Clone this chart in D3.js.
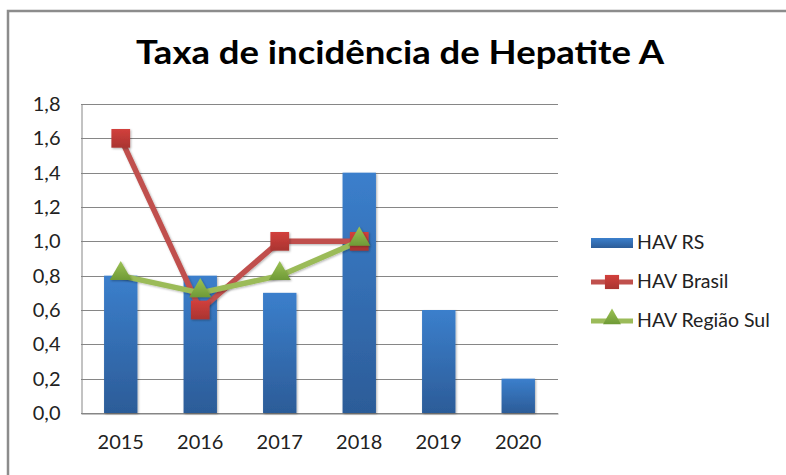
<!DOCTYPE html>
<html>
<head>
<meta charset="utf-8">
<script src="https://cdn.jsdelivr.net/npm/d3@7"></script>
<style>
  body { margin: 0; background: #fff; }
  svg { display: block; font-family: Lato, "Open Sans", sans-serif; }
  .grid line { stroke: #868686; stroke-width: 1; }
  .tick text { fill: #222; }
</style>
</head>
<body>
<svg id="chart" width="786" height="475"></svg>
<script>
var years = ['2015', '2016', '2017', '2018', '2019', '2020'];
var havRS = [0.8, 0.8, 0.7, 1.4, 0.6, 0.2];
var havBrasil = [1.6, 0.6, 1.0, 1.0];
var havSul = [0.8, 0.7, 0.8, 1.0];
var yTicks = [0, 0.2, 0.4, 0.6, 0.8, 1.0, 1.2, 1.4, 1.6, 1.8];

var svg = d3.select('#chart');
var plot = {left: 81, right: 558, top: 104, bottom: 413};

var defs = svg.append('defs');
var barGrad = defs.append('linearGradient')
  .attr('id', 'barGrad')
  .attr('x1', 0).attr('y1', 0).attr('x2', 0).attr('y2', 1);
barGrad.append('stop').attr('offset', '0%').attr('stop-color', '#3b7fcc');
barGrad.append('stop').attr('offset', '100%').attr('stop-color', '#2c5c98');
var redGrad = defs.append('linearGradient')
  .attr('id', 'redGrad')
  .attr('x1', 0).attr('y1', 0).attr('x2', 0).attr('y2', 1);
redGrad.append('stop').attr('offset', '0%').attr('stop-color', '#d2403c');
redGrad.append('stop').attr('offset', '100%').attr('stop-color', '#a93431');
var greenGrad = defs.append('linearGradient')
  .attr('id', 'greenGrad')
  .attr('x1', 0).attr('y1', 0).attr('x2', 0).attr('y2', 1);
greenGrad.append('stop').attr('offset', '0%').attr('stop-color', '#9cc255');
greenGrad.append('stop').attr('offset', '100%').attr('stop-color', '#6f9a36');
var shadow = defs.append('filter').attr('id', 'shadow')
  .attr('x', '-30%').attr('y', '-30%').attr('width', '160%').attr('height', '160%');
shadow.append('feDropShadow')
  .attr('dx', 1).attr('dy', 1).attr('stdDeviation', 1.2)
  .attr('flood-color', '#000').attr('flood-opacity', 0.3);

// outer frame
svg.append('rect')
  .attr('x', 8).attr('y', 11)
  .attr('width', 790).attr('height', 480)
  .attr('fill', 'none')
  .attr('stroke', '#8c8c8c')
  .attr('stroke-width', 2.5);

// title
svg.append('text')
  .attr('x', 400)
  .attr('y', 64)
  .attr('text-anchor', 'middle')
  .attr('font-size', 32)
  .attr('font-weight', 'bold')
  .attr('fill', '#000')
  .attr('textLength', 528)
  .attr('lengthAdjust', 'spacingAndGlyphs')
  .text('Taxa de incidência de Hepatite A');

var x = d3.scaleBand()
  .domain(years)
  .range([plot.left, plot.right])
  .paddingInner(0.58)
  .paddingOuter(0.29);
var y = d3.scaleLinear()
  .domain([0, 1.8])
  .range([plot.bottom, plot.top]);
var cx = function(i) { return x(years[i]) + x.bandwidth() / 2; };
var fmt = function(d) { return d3.format('.1f')(d).replace('.', ','); };

// gridlines
svg.append('g')
  .attr('class', 'grid')
  .selectAll('line')
  .data(yTicks)
  .enter().append('line')
  .attr('x1', plot.left)
  .attr('x2', plot.right)
  .attr('y1', function(d) { return Math.round(y(d)) + 0.5; })
  .attr('y2', function(d) { return Math.round(y(d)) + 0.5; });

// left axis
var yAxis = svg.append('g')
  .attr('transform', 'translate(' + (plot.left + 0.5) + ',0)')
  .call(d3.axisLeft(y).tickValues(yTicks).tickFormat(fmt).tickSize(0).tickPadding(21));
yAxis.select('.domain').attr('stroke', '#868686');
yAxis.selectAll('text').attr('font-size', 20).attr('font-family', 'Lato, sans-serif');

// bottom axis
var xAxis = svg.append('g')
  .attr('transform', 'translate(0,' + (plot.bottom + 0.5) + ')')
  .call(d3.axisBottom(x).tickSize(0).tickPadding(21));
xAxis.select('.domain').attr('stroke', '#868686');
xAxis.selectAll('text').attr('font-size', 20).attr('font-family', 'Lato, sans-serif');

// bars
svg.append('g')
  .selectAll('rect')
  .data(havRS)
  .enter().append('rect')
  .attr('x', function(d, i) { return x(years[i]); })
  .attr('y', function(d) { return y(d); })
  .attr('width', x.bandwidth())
  .attr('height', function(d) { return y(0) - y(d); })
  .attr('fill', 'url(#barGrad)')
  .attr('filter', 'url(#shadow)');

var line = d3.line()
  .x(function(d, i) { return cx(i); })
  .y(function(d) { return y(d); });

// HAV Brasil
svg.append('path')
  .datum(havBrasil)
  .attr('d', line)
  .attr('fill', 'none')
  .attr('stroke', '#c0504d')
  .attr('stroke-width', 5.5)
  .attr('stroke-linejoin', 'round')
  .attr('filter', 'url(#shadow)');

// HAV Regiao Sul
svg.append('path')
  .datum(havSul)
  .attr('d', line)
  .attr('fill', 'none')
  .attr('stroke', '#9bbb59')
  .attr('stroke-width', 5.5)
  .attr('stroke-linejoin', 'round')
  .attr('filter', 'url(#shadow)');

var square = d3.symbol().type(d3.symbolSquare).size(350);
var triangle = d3.symbol().type(d3.symbolTriangle).size(210);

svg.append('g')
  .selectAll('path')
  .data(havBrasil)
  .enter().append('path')
  .attr('d', square)
  .attr('transform', function(d, i) { return 'translate(' + cx(i) + ',' + y(d) + ')'; })
  .attr('fill', 'url(#redGrad)')
  .attr('filter', 'url(#shadow)');

svg.append('g')
  .selectAll('path')
  .data(havSul)
  .enter().append('path')
  .attr('d', triangle)
  .attr('transform', function(d, i) { return 'translate(' + cx(i) + ',' + (y(d) - 2) + ')'; })
  .attr('fill', 'url(#greenGrad)')
  .attr('filter', 'url(#shadow)');

// legend
var legendItems = [
  {name: 'HAV RS', kind: 'bar'},
  {name: 'HAV Brasil', kind: 'red'},
  {name: 'HAV Região Sul', kind: 'green'}
];
var lg = svg.append('g').selectAll('g')
  .data(legendItems)
  .enter().append('g')
  .attr('transform', function(d, i) { return 'translate(591,' + (243 + i * 39) + ')'; });
lg.each(function(d) {
  var g = d3.select(this);
  if (d.kind === 'bar') {
    g.append('rect').attr('x', 0).attr('y', -5).attr('width', 42).attr('height', 10)
      .attr('fill', 'url(#barGrad)');
  } else {
    g.append('line').attr('x1', 0).attr('x2', 42).attr('y1', 0).attr('y2', 0)
      .attr('stroke', d.kind === 'red' ? '#c0504d' : '#9bbb59')
      .attr('stroke-width', 5);
    g.append('path')
      .attr('d', d.kind === 'red' ? d3.symbol().type(d3.symbolSquare).size(200)() : d3.symbol().type(d3.symbolTriangle).size(140)())
      .attr('transform', 'translate(21,' + (d.kind === 'red' ? 0 : -2) + ')')
      .attr('fill', d.kind === 'red' ? 'url(#redGrad)' : 'url(#greenGrad)');
  }
  g.append('text')
    .attr('x', 46)
    .attr('y', 6)
    .attr('font-size', 19.5)
    .attr('fill', '#222')
    .text(d.name);
});
</script>
</body>
</html>
